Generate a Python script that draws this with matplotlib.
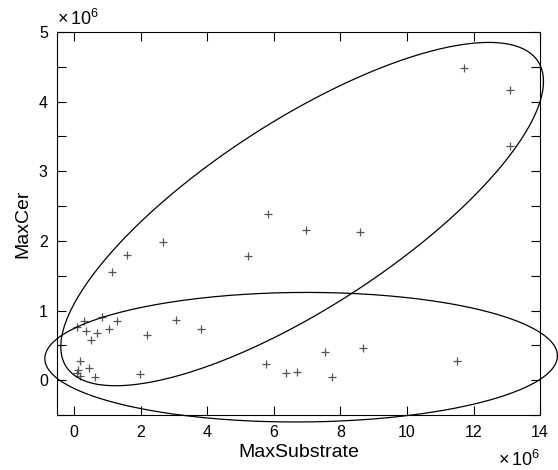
import numpy as np
import matplotlib
matplotlib.use("Agg")
import matplotlib.pyplot as plt
from matplotlib.ticker import MultipleLocator

plt.rcParams['font.family'] = ['Liberation Sans', 'DejaVu Sans']
plt.rcParams['mathtext.fontset'] = 'custom'
plt.rcParams['mathtext.rm'] = 'Liberation Sans'

# values in units of 1e6
max_substrate = [11.71, 13.08, 13.08, 5.82, 6.97, 8.59, 5.23, 2.67, 1.60, 1.13,
                 0.08, 0.30, 0.35, 0.68, 0.51, 0.83, 1.05, 1.28, 2.18, 3.05,
                 3.80, 0.18, 0.46, 0.13, 0.09, 0.18, 0.63, 1.97, 5.75, 6.37,
                 6.69, 7.54, 8.67, 7.75, 11.50]
max_cer = [4.48, 4.17, 3.36, 2.39, 2.15, 2.13, 1.78, 1.98, 1.80, 1.56,
           0.77, 0.85, 0.71, 0.68, 0.57, 0.91, 0.73, 0.85, 0.65, 0.86,
           0.73, 0.27, 0.18, 0.14, 0.10, 0.06, 0.05, 0.09, 0.23, 0.11,
           0.12, 0.41, 0.46, 0.04, 0.27]

# cluster outlines: centre, x half-width, y coupling, y spread
upper_cluster = dict(cx=6.85, cy=2.385, a=7.25, c=1.905, d=1.564)
lower_cluster = dict(cx=6.82, cy=0.33, a=7.70, c=0.02, d=0.93)


def outline(cx, cy, a, c, d, n=400):
    t = np.linspace(0, 2 * np.pi, n)
    return cx + a * np.cos(t), cy + c * np.cos(t) + d * np.sin(t)


fig = plt.figure(figsize=(5.58, 4.70), dpi=100)
ax = fig.add_axes([0.103, 0.117, 0.865, 0.815])

ax.plot(max_substrate, max_cer, '+', color='#555555', ms=6, mew=0.9)
for e in (upper_cluster, lower_cluster):
    ex, ey = outline(**e)
    ax.plot(ex, ey, color='black', lw=0.9, clip_on=False)

ax.set_xlim(-0.5, 14)
ax.set_ylim(-0.5, 5)
ax.xaxis.set_major_locator(MultipleLocator(2))
ax.yaxis.set_major_locator(MultipleLocator(1))
ax.yaxis.set_minor_locator(MultipleLocator(0.5))
ax.tick_params(which='both', direction='in', top=True, right=True,
               length=6.5, width=0.8, labelsize=11.5, pad=7)
for s in ax.spines.values():
    s.set_linewidth(0.8)

ax.set_xlabel('MaxSubstrate', fontsize=14, labelpad=3)
ax.set_ylabel('MaxCer', fontsize=14, labelpad=5)
ax.text(0, 1.008, r'$\times\,10^6$', transform=ax.transAxes,
        ha='left', va='bottom', fontsize=13)
ax.text(1, -0.09, r'$\times\,10^6$', transform=ax.transAxes,
        ha='right', va='top', fontsize=13)

fig.savefig('out.png', dpi=100)
